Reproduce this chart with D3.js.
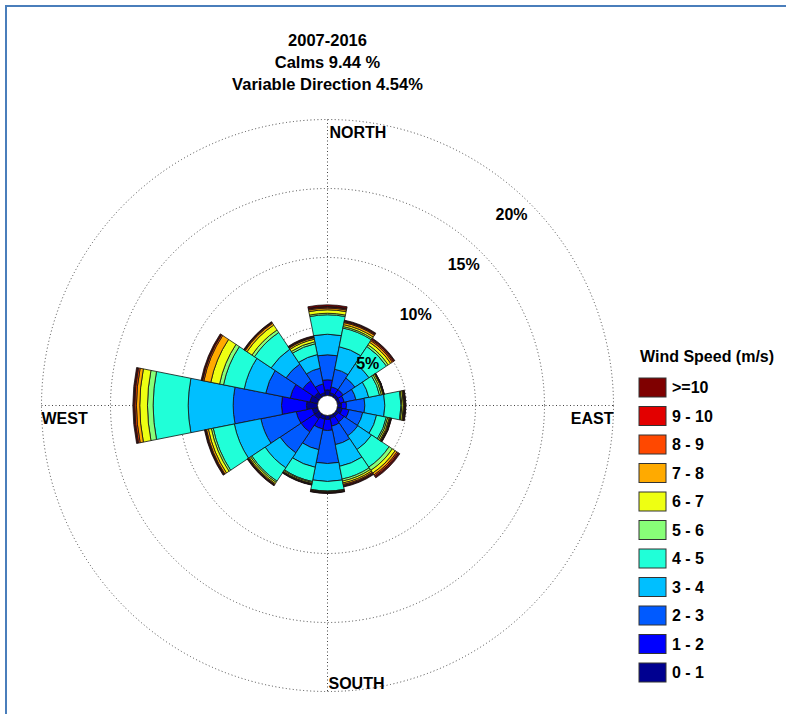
<!DOCTYPE html>
<html>
<head>
<meta charset="utf-8">
<script src="https://cdn.jsdelivr.net/npm/d3@7"></script>
<style>
  body { margin: 0; background: #fff; }
  svg text { font-family: "Liberation Sans", Arial, sans-serif; font-weight: bold; }
</style>
</head>
<body>
<div id="vis-rose"></div>
<script>
// Data: frequency (%) per direction, one array per speed class --------------------------------------------------
const directions = ["N", "NNE", "NE", "ENE", "E", "ESE", "SE", "SSE", "S", "SSW", "SW", "WSW", "W", "WNW", "NW", "NNW"];
const speedLabels = ["0 - 1", "1 - 2", "2 - 3", "3 - 4", "4 - 5", "5 - 6", "6 - 7", "7 - 8", "8 - 9", "9 - 10", ">=10"];
const speedColors = ["#000090", "#0000ff", "#005aff", "#00bfff", "#20ffd8", "#88ff78", "#eeff12", "#ffaa00", "#ff4800", "#e30000", "#7f0000"];

const speed0to1 = [0.41, 0.22, 0.22, 0.18, 0.29, 0.36, 0.22, 0.22, 0.29, 0.29, 0.43, 0.40, 0.80, 0.58, 0.43, 0.22];
const speed1to2 = [0.73, 0.43, 0.43, 0.33, 0.36, 0.51, 0.50, 0.58, 0.80, 0.72, 1.16, 1.19, 1.81, 1.45, 1.01, 0.65];
const speed2to3 = [1.81, 1.31, 1.02, 0.87, 1.33, 1.01, 1.20, 1.37, 2.39, 1.53, 1.82, 2.61, 3.50, 1.81, 1.45, 1.16];
const speed3to4 = [1.49, 1.66, 1.23, 0.94, 1.45, 1.02, 1.20, 1.60, 1.30, 1.30, 1.30, 1.96, 3.26, 1.59, 1.30, 1.01];
const speed4to5 = [1.41, 1.38, 1.52, 0.80, 1.17, 0.72, 1.53, 0.94, 0.69, 1.05, 1.16, 1.56, 2.54, 1.53, 1.45, 0.80];
const speed5to6 = [0.11, 0.11, 0.15, 0.14, 0.07, 0.11, 0.28, 0.15, 0.04, 0.07, 0.11, 0.14, 0.41, 0.29, 0.22, 0.15];
const speed6to7 = [0.25, 0.14, 0.21, 0.11, 0.11, 0.11, 0.24, 0.14, 0.03, 0.08, 0.11, 0.22, 0.56, 0.65, 0.43, 0.18];
const speed7to8 = [0.12, 0.15, 0.15, 0.06, 0.06, 0.07, 0.16, 0.11, 0.04, 0.03, 0.07, 0.14, 0.24, 0.51, 0.15, 0.11];
const speed8to9 = [0.07, 0.07, 0.09, 0.02, 0.04, 0.05, 0.10, 0.07, 0.02, 0.04, 0.04, 0.06, 0.12, 0.10, 0.06, 0.05];
const speed9to10 = [0.05, 0.06, 0.07, 0.01, 0.03, 0.03, 0.08, 0.06, 0.02, 0.02, 0.03, 0.04, 0.07, 0.04, 0.04, 0.04];
const speed10plus = [0.12, 0.05, 0.05, 0.02, 0.04, 0.03, 0.07, 0.05, 0.03, 0.03, 0.04, 0.05, 0.07, 0.07, 0.04, 0.05];

const speedSeries = [speed0to1, speed1to2, speed2to3, speed3to4, speed4to5, speed5to6,
  speed6to7, speed7to8, speed8to9, speed9to10, speed10plus];

const ringTicks = [5, 10, 15, 20];
const titleLines = ["2007-2016", "Calms 9.44 %", "Variable Direction 4.54%"];

// Canvas --------------------------------------------------------------------------------------------------------
const canvasWidth = 786;
const canvasHeight = 714;
const cx = 327.5;
const cy = 405.5;
const fontSize = 16;

const svg = d3.select("#vis-rose")
  .append("svg")
  .attr("width", canvasWidth)
  .attr("height", canvasHeight);

svg.append("rect")
  .attr("x", 6)
  .attr("y", 6)
  .attr("width", canvasWidth + 20)
  .attr("height", canvasHeight + 20)
  .style("fill", "#fff")
  .style("stroke", "#4a7ebb")
  .style("stroke-width", 2);

const rScale = d3.scaleLinear()
  .domain([0, 20])
  .range([10, 286]);
const outerR = rScale(20);

const plot = svg.append("g")
  .attr("transform", "translate(" + cx + "," + cy + ")");

// Grid: dotted rings and axis lines
plot.selectAll("circle.ring")
  .data(ringTicks)
  .join("circle")
  .attr("class", "ring")
  .attr("r", d => rScale(d))
  .style("fill", "none")
  .style("stroke", "#444")
  .style("stroke-width", 1)
  .style("stroke-dasharray", "1,2.5");

plot.append("line")
  .attr("x1", 0).attr("x2", 0)
  .attr("y1", -outerR).attr("y2", outerR)
  .style("stroke", "#444")
  .style("stroke-dasharray", "1,2.5");
plot.append("line")
  .attr("x1", -outerR).attr("x2", outerR)
  .attr("y1", 0).attr("y2", 0)
  .style("stroke", "#444")
  .style("stroke-dasharray", "1,2.5");

// Sectors -------------------------------------------------------------------------------------------------------
const table = directions.map((dir, i) => {
  const row = { dir: dir, angle: i * 360 / directions.length };
  speedSeries.forEach((s, k) => row["b" + k] = s[i]);
  return row;
});
const stacked = d3.stack().keys(speedSeries.map((s, k) => "b" + k))(table);

const halfWidth = Math.PI / directions.length;
const arc = d3.arc()
  .innerRadius(d => rScale(d[0]))
  .outerRadius(d => rScale(d[1]))
  .startAngle(d => d.data.angle * Math.PI / 180 - halfWidth)
  .endAngle(d => d.data.angle * Math.PI / 180 + halfWidth);

plot.selectAll("g.layer")
  .data(stacked)
  .join("g")
  .attr("class", "layer")
  .style("fill", (d, k) => speedColors[k])
  .selectAll("path")
  .data(d => d)
  .join("path")
  .attr("d", arc)
  .style("stroke", "#111")
  .style("stroke-width", 0.8);

plot.append("circle")
  .attr("r", rScale(0))
  .style("fill", "#fff")
  .style("stroke", "#111")
  .style("stroke-width", 0.8);

// Ring labels
const labelAngle = 44 * Math.PI / 180;
plot.selectAll("text.ringLabel")
  .data(ringTicks)
  .join("text")
  .attr("class", "ringLabel")
  .attr("x", d => (rScale(d) - 21) * Math.sin(labelAngle))
  .attr("y", d => -(rScale(d) - 21) * Math.cos(labelAngle))
  .attr("dy", "0.35em")
  .style("text-anchor", "middle")
  .style("font-size", fontSize)
  .text(d => d + "%");

// Compass labels
plot.append("text").text("NORTH")
  .attr("x", 2).attr("y", -outerR + 18)
  .style("font-size", fontSize);
plot.append("text").text("SOUTH")
  .attr("x", 1).attr("y", outerR - 3)
  .style("font-size", fontSize);
plot.append("text").text("EAST")
  .attr("x", outerR).attr("y", 18)
  .style("text-anchor", "end")
  .style("font-size", fontSize);
plot.append("text").text("WEST")
  .attr("x", -outerR).attr("y", 18)
  .style("font-size", fontSize);

// Title
svg.selectAll("text.title")
  .data(titleLines)
  .join("text")
  .attr("class", "title")
  .attr("x", cx)
  .attr("y", (d, i) => 46 + i * 22)
  .style("text-anchor", "middle")
  .style("font-size", 16.5)
  .text(d => d);

// Legend --------------------------------------------------------------------------------------------------------
const legendGroup = svg.append("g")
  .attr("transform", "translate(639, 0)");

legendGroup.append("text")
  .text("Wind Speed (m/s)")
  .attr("x", 1)
  .attr("y", 362)
  .style("font-size", fontSize);

const legendOrder = d3.range(speedLabels.length).reverse();
const legendItems = legendGroup.selectAll("g.item")
  .data(legendOrder)
  .join("g")
  .attr("class", "item")
  .attr("transform", (d, i) => "translate(0," + (378 + i * 28.5) + ")");

legendItems.append("rect")
  .attr("width", 27)
  .attr("height", 19)
  .style("fill", d => speedColors[d])
  .style("stroke", "#333")
  .style("stroke-width", 1);

legendItems.append("text")
  .attr("x", 33)
  .attr("y", 9.5)
  .attr("dy", "0.36em")
  .style("font-size", fontSize)
  .text(d => speedLabels[d]);
</script>
</body>
</html>
